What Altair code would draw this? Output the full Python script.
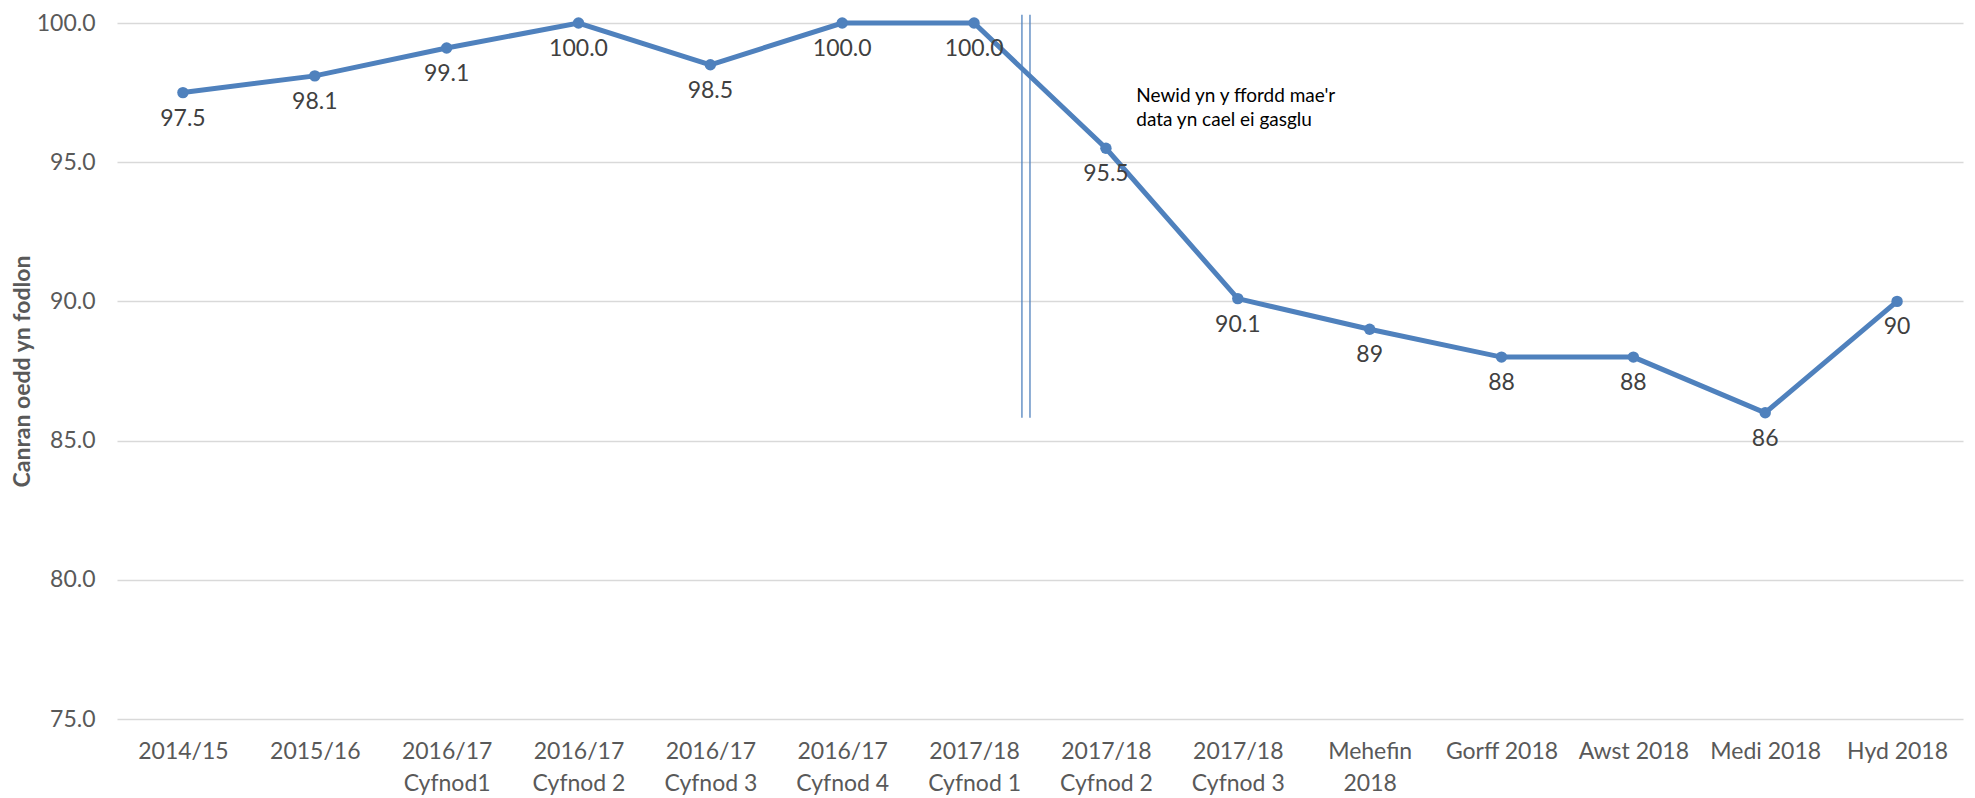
import altair as alt
import pandas as pd

categories = [
    "2014/15", "2015/16", "2016/17|Cyfnod1", "2016/17|Cyfnod 2", "2016/17|Cyfnod 3",
    "2016/17|Cyfnod 4", "2017/18|Cyfnod 1", "2017/18|Cyfnod 2", "2017/18|Cyfnod 3",
    "Mehefin|2018", "Gorff 2018", "Awst 2018", "Medi 2018", "Hyd 2018",
]
values = [97.5, 98.1, 99.1, 100.0, 98.5, 100.0, 100.0, 95.5, 90.1, 89, 88, 88, 86, 90]
value_labels = ["97.5", "98.1", "99.1", "100.0", "98.5", "100.0", "100.0", "95.5",
                "90.1", "89", "88", "88", "86", "90"]

# break marker (double vertical line) between periods
break_x = [6.363, 6.424]
break_y_top = [100.3, 100.3]
break_y_bottom = [85.82, 85.82]

note_lines = ["Newid yn y ffordd mae'r", "\u00a0data yn cael ei gasglu"]
note_x = [7.23]
note_y = [97.15]

FONT = "Lato"
BLUE = "#4F81BD"
GREY = "#595959"

df = pd.DataFrame({"idx": list(range(len(categories))), "cat": categories,
                   "value": values, "label": value_labels})
rules_df = pd.DataFrame({"x": break_x, "y": break_y_top, "y2": break_y_bottom})
note_df = pd.DataFrame({"x": note_x, "y": note_y, "text": [note_lines]})

cat_array = "[" + ",".join("'" + c.replace("'", "\\'") + "'" for c in categories) + "]"

x_scale = alt.Scale(domain=[-0.5, len(categories) - 0.5], nice=False, zero=False)
y_scale = alt.Scale(domain=[75, 100], nice=False, zero=False)

x_enc = alt.X(
    "idx:Q", scale=x_scale,
    axis=alt.Axis(
        values=list(range(len(categories))), title=None, grid=False, ticks=False,
        domain=False, labelExpr="split(" + cat_array + "[datum.value], '|')",
        labelFont=FONT, labelFontSize=23, labelColor=GREY, labelPadding=32,
        labelLineHeight=32, labelBaseline="middle",
    ),
)
y_enc = alt.Y(
    "value:Q", scale=y_scale,
    axis=alt.Axis(
        values=[75, 80, 85, 90, 95, 100], format=".1f", title="Canran oedd yn fodlon",
        titleFont=FONT, titleFontSize=23, titleFontWeight="bold", titleColor=GREY,
        titleX=-95, titleY=348, titleAngle=-90, titleAlign="center", titleBaseline="middle",
        labelFont=FONT, labelFontSize=23, labelColor=GREY,
        labelPadding=22, ticks=False, domain=False, gridColor="#D9D9D9", gridWidth=1.5,
    ),
)

base = alt.Chart(df)
line = base.mark_line(color=BLUE, strokeWidth=5).encode(x=x_enc, y=y_enc)
points = base.mark_point(filled=True, color=BLUE, size=130, opacity=1).encode(x="idx:Q", y="value:Q")
labels = base.mark_text(font=FONT, fontSize=23, color="#404040", dy=26, baseline="middle").encode(
    x="idx:Q", y="value:Q", text="label:N")

rules = alt.Chart(rules_df).mark_rule(color=BLUE, strokeWidth=1.3).encode(
    x="x:Q", y="y:Q", y2="y2:Q")
note = alt.Chart(note_df).mark_text(font=FONT, fontSize=19, color="#000000", align="left",
                                     baseline="alphabetic", lineHeight=24).encode(
    x="x:Q", y="y:Q", text="text")

chart = alt.layer(line, rules, points, labels, note).properties(
    width=1846, height=696,
    autosize=alt.AutoSizeParams(type="none"),
    padding={"left": 109, "top": 15, "right": 4, "bottom": 79},
    background="white",
).configure_view(stroke=None)

chart.save("out.html", embed_options={"renderer": "svg", "actions": False})
